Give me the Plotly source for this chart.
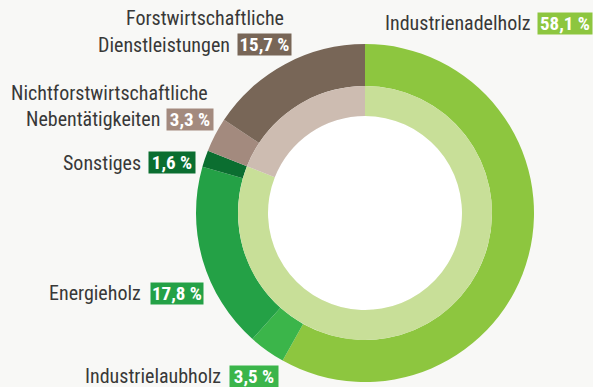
import plotly.graph_objects as go

W, H = 593, 387

# Segment data (share in %), clockwise from 12 o'clock
categories = [
    "Industrienadelholz",
    "Industrielaubholz",
    "Energieholz",
    "Sonstiges",
    "Nichtforstwirtschaftliche Nebentätigkeiten",
    "Forstwirtschaftliche Dienstleistungen",
]
shares = [58.1, 3.5, 17.8, 1.6, 3.3, 15.7]
groups = ["Holz", "Holz", "Holz", "Holz", "Dienst", "Dienst"]
value_labels = ["58,1 %", "3,5 %", "17,8 %", "1,6 %", "3,3 %", "15,7 %"]

outer_colors = ["#8dc63f", "#3bb54a", "#24a146", "#0b6e30", "#a38a7e", "#786657"]
group_names = ["Holz", "Dienst"]
group_colors = ["#c8df98", "#cdbcb1"]
group_totals = [sum(v for v, g in zip(shares, groups) if g == name) for name in group_names]

BG = "#f8f8f6"
CX, CY = 365, 213
R_OUT, R_MID, R_IN = 169, 127, 97


def domain(r):
    return dict(x=[(CX - r) / W, (CX + r) / W],
                y=[1 - (CY + r) / H, 1 - (CY - r) / H])


fig = go.Figure()
fig.add_trace(go.Pie(
    values=shares, labels=categories, sort=False, direction="clockwise",
    rotation=0, hole=R_MID / R_OUT, domain=domain(R_OUT),
    marker=dict(colors=outer_colors, line=dict(width=0)),
    textinfo="none", hoverinfo="skip", showlegend=False,
))
fig.add_trace(go.Pie(
    values=group_totals, labels=group_names, sort=False, direction="clockwise",
    rotation=0, hole=R_IN / R_MID, domain=domain(R_MID),
    marker=dict(colors=group_colors, line=dict(width=0)),
    textinfo="none", hoverinfo="skip", showlegend=False,
))

# white centre
fig.add_shape(type="circle", xref="paper", yref="paper", layer="below",
              x0=(CX - R_IN) / W, x1=(CX + R_IN) / W,
              y0=1 - (CY + R_IN) / H, y1=1 - (CY - R_IN) / H,
              fillcolor="white", line=dict(width=0))

NAME_FONT = dict(family="Roboto Condensed", size=20, color="#383838")
BADGE_FONT = dict(family="Roboto Condensed", size=19, color="white")

# label layout: (name lines with right edge and centre y), badge box (left, right, centre y)
label_layout = [
    ([("Industrienadelholz", 533, 23)], (537, 591, 23)),
    ([("Industrielaubholz", 223, 376)], (229, 277, 376)),
    ([("Energieholz", 143, 293)], (150, 202, 293)),
    ([("Sonstiges", 143, 162.5)], (148, 194, 162.5)),
    ([("Nichtforstwirtschaftliche", 210, 93), ("Nebentätigkeiten", 162, 119)], (166, 212, 119)),
    ([("Forstwirtschaftliche", 286, 18), ("Dienstleistungen", 232, 44.5)], (237, 290, 44.5)),
]

for i, (lines, badge) in enumerate(label_layout):
    for text, xr, yc in lines:
        fig.add_annotation(text=text, xref="paper", yref="paper",
                           x=xr / W, y=1 - yc / H, xanchor="right", yanchor="middle",
                           showarrow=False, font=NAME_FONT)
    x0, x1, yc = badge
    fig.add_annotation(text="<b>" + value_labels[i] + "</b>", xref="paper", yref="paper",
                       x=x0 / W, y=1 - yc / H, xanchor="left", yanchor="middle",
                       showarrow=False, font=BADGE_FONT, bgcolor=outer_colors[i],
                       borderpad=0, width=x1 - x0, height=21, align="center", valign="middle")

fig.update_layout(
    width=W, height=H, margin=dict(l=0, r=0, t=0, b=0),
    paper_bgcolor=BG, plot_bgcolor=BG,
)

fig.write_html("out.html")
